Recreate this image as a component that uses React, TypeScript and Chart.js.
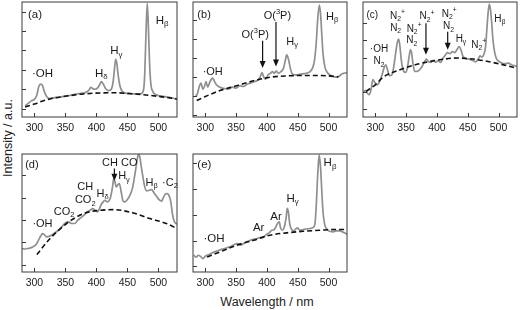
import React, { useEffect, useRef } from "react";
import { Chart, registerables } from "chart.js";
Chart.register(...registerables);

const FONT = "'Liberation Sans', Arial, Helvetica, sans-serif";
const X_TICKS = [300, 350, 400, 450, 500];

// ---------- Panel (a) ----------
const A_WL = [285, 290, 295, 300, 304, 307, 310, 313, 316, 320, 325, 335, 345, 355, 365, 375, 383, 388, 391, 395, 398, 402, 405, 408, 411, 415, 420, 424, 427, 429, 431, 433, 435, 438, 441, 445, 455, 465, 472, 476, 478, 480, 482, 484, 486, 488, 491, 496, 505, 515, 525, 530];
const A_INT = [0.14, 0.27, 0.4, 0.48, 0.7, 1.13, 1.27, 1.2, 0.88, 0.62, 0.52, 0.58, 0.62, 0.67, 0.74, 0.79, 0.84, 0.96, 1.1, 1.01, 1.0, 1.07, 1.22, 1.39, 1.27, 1.03, 0.93, 1.0, 1.39, 1.99, 2.54, 2.34, 1.74, 1.17, 0.93, 0.82, 0.77, 0.76, 0.77, 0.96, 1.82, 3.88, 5.43, 4.05, 2.16, 1.22, 0.88, 0.72, 0.65, 0.6, 0.53, 0.5];
const A_BASE_WL = [285, 300, 312, 325, 352, 379, 406, 427, 449, 476, 503, 530];
const A_BASE = [0.09, 0.24, 0.38, 0.5, 0.65, 0.76, 0.81, 0.82, 0.79, 0.72, 0.62, 0.5];
const A_LABELS = [
  { text: "(a)", x: 301, y: 4.83 },
  { text: "·OH", x: 313, y: 1.79 },
  { text: "H_δ", x: 408, y: 1.82 },
  { text: "H_γ", x: 432, y: 2.99 },
  { text: "H_β", x: 506, y: 4.54 },
];
const A_ARROWS: { x: number; y1: number; y2: number }[] = [];

// ---------- Panel (b) ----------
const B_WL = [284, 287, 290, 293, 296, 299, 301, 304, 307, 310, 312, 315, 318, 323, 330, 337, 344, 350, 356, 362, 367, 373, 379, 385, 389, 392, 395, 398, 402, 406, 409, 412, 415, 419, 423, 427, 430, 432, 435, 438, 441, 446, 452, 458, 464, 470, 474, 477, 480, 482, 485, 487, 489, 491, 494, 498, 503, 508, 513, 518, 522, 526, 530];
const B_INT = [0.96, 1.1, 1.46, 1.67, 1.35, 1.53, 1.75, 1.46, 1.7, 1.88, 1.93, 1.75, 1.58, 1.46, 1.39, 1.35, 1.46, 1.4, 1.53, 1.49, 1.6, 1.67, 1.74, 1.81, 1.98, 2.23, 1.98, 1.88, 2.11, 2.19, 2.28, 2.19, 2.3, 2.19, 2.28, 2.46, 2.89, 3.16, 2.93, 2.46, 2.16, 2.1, 2.12, 2.16, 2.19, 2.28, 2.46, 2.81, 3.77, 4.82, 5.79, 5.35, 4.3, 3.25, 2.54, 2.23, 2.09, 2.02, 1.98, 2.05, 2.16, 2.19, 2.23];
const B_BASE_WL = [286, 300, 324, 351, 378, 405, 432, 459, 486, 500, 516];
const B_BASE = [0.75, 0.96, 1.28, 1.53, 1.79, 1.98, 2.05, 2.07, 2.07, 2.05, 2.0];
const B_LABELS = [
  { text: "(b)", x: 298, y: 5.26 },
  { text: "·OH", x: 312, y: 2.28 },
  { text: "O(^3P)", x: 381, y: 4.21 },
  { text: "O(^3P)", x: 417, y: 5.21 },
  { text: "H_γ", x: 441, y: 3.86 },
  { text: "H_β", x: 506, y: 5.17 },
];
const B_ARROWS = [
  { x: 393, y1: 3.91, y2: 2.46 },
  { x: 414.7, y1: 4.89, y2: 2.54 },
];

// ---------- Panel (c) ----------
const C_WL = [281, 284, 287, 290, 293, 296, 299, 303, 307, 311, 314, 317, 320, 323, 327, 330, 333, 336, 338, 340, 342, 345, 349, 352, 355, 357, 359, 361, 364, 368, 372, 376, 380, 383, 386, 390, 394, 398, 402, 406, 410, 414, 417, 421, 425, 429, 433, 436, 439, 442, 446, 452, 458, 463, 467, 470, 473, 476, 479, 481, 483, 485, 487, 489, 491, 494, 497, 501, 506, 511, 516, 521, 526, 530];
const C_INT = [0.97, 1.09, 0.93, 0.83, 1.12, 1.71, 1.55, 1.41, 1.61, 2.0, 2.38, 2.58, 2.25, 1.94, 2.0, 2.48, 3.26, 3.93, 4.07, 3.64, 2.91, 2.29, 2.13, 2.38, 3.1, 3.45, 3.26, 2.67, 2.19, 2.19, 2.29, 2.48, 2.77, 2.91, 2.77, 2.71, 2.83, 2.73, 2.81, 2.71, 2.97, 3.16, 3.29, 3.22, 3.35, 3.29, 3.49, 3.64, 3.45, 3.1, 2.95, 2.91, 2.83, 2.75, 2.91, 3.1, 3.02, 3.16, 3.64, 4.61, 5.58, 6.12, 5.78, 5.0, 4.03, 3.26, 2.91, 2.77, 2.67, 2.64, 2.67, 2.58, 2.52, 2.48];
const C_BASE_WL = [285, 300, 313, 340, 372, 405, 432, 459, 491, 530];
const C_BASE = [1.03, 1.41, 1.86, 2.29, 2.64, 2.87, 2.97, 2.91, 2.71, 2.38];
const C_LABELS = [
  { text: "(c)", x: 295, y: 5.48 },
  { text: "N_2^+", x: 336, y: 5.42 },
  { text: "N_2", x: 333, y: 4.71 },
  { text: "N_2^+", x: 363, y: 4.65 },
  { text: "N_2", x: 359, y: 3.99 },
  { text: "N_2^+", x: 384, y: 5.38 },
  { text: "N_2^+", x: 420, y: 5.54 },
  { text: "N_2", x: 419, y: 4.8 },
  { text: "H_γ", x: 439, y: 4.07 },
  { text: "N_2^+", x: 468, y: 3.74 },
  { text: "H_β", x: 502, y: 5.25 },
  { text: "·OH", x: 306, y: 3.49 },
  { text: "N_2", x: 306, y: 2.77 },
];
const C_ARROWS = [
  { x: 382.2, y1: 5.0, y2: 3.16 },
  { x: 417.5, y1: 4.51, y2: 3.45 },
];

// ---------- Panel (d) ----------
const D_WL = [280, 285, 290, 295, 299, 303, 307, 310, 313, 316, 320, 325, 330, 335, 340, 345, 350, 355, 360, 365, 370, 375, 380, 385, 390, 394, 398, 402, 405, 408, 411, 414, 417, 420, 423, 426, 428, 430, 432, 434, 437, 440, 443, 446, 450, 454, 458, 461, 464, 466, 468, 470, 472, 475, 478, 481, 485, 489, 493, 497, 501, 505, 508, 511, 514, 517, 520, 523, 526, 530];
const D_INT = [0.72, 0.7, 0.72, 0.76, 0.82, 0.91, 1.12, 1.27, 1.39, 1.34, 1.24, 1.28, 1.36, 1.46, 1.57, 1.72, 1.87, 1.91, 1.84, 1.84, 1.99, 2.1, 2.21, 2.36, 2.43, 2.51, 2.43, 2.36, 2.51, 2.7, 2.81, 2.88, 2.81, 2.85, 3.03, 3.48, 3.85, 3.7, 3.48, 3.55, 3.63, 3.25, 2.85, 2.81, 2.91, 3.1, 3.4, 3.85, 4.37, 4.75, 4.93, 4.82, 4.45, 3.93, 3.48, 3.3, 3.33, 3.36, 3.21, 3.06, 2.91, 2.84, 3.0, 3.15, 3.18, 3.1, 2.81, 2.21, 1.91, 1.81];
const D_BASE_WL = [304, 325, 352, 379, 406, 427, 460, 486, 513, 530];
const D_BASE = [0.45, 1.16, 1.84, 2.28, 2.43, 2.46, 2.31, 2.06, 1.84, 1.61];
const D_LABELS = [
  { text: "(d)", x: 296, y: 4.45 },
  { text: "·OH", x: 313, y: 1.81 },
  { text: "CO_2", x: 348, y: 2.36 },
  { text: "CH", x: 382, y: 3.48 },
  { text: "CO_2", x: 382, y: 2.88 },
  { text: "H_δ", x: 410, y: 3.18 },
  { text: "CH", x: 422, y: 4.56 },
  { text: "H_γ", x: 444.5, y: 3.96 },
  { text: "CO", x: 453, y: 4.56 },
  { text: "H_β", x: 489, y: 3.66 },
  { text: "·C_2", x: 518.7, y: 3.66 },
];
const D_ARROWS = [{ x: 429, y1: 4.3, y2: 3.75 }];

// ---------- Panel (e) ----------
const E_WL = [281, 285, 289, 292, 296, 300, 303, 307, 311, 315, 320, 325, 330, 336, 342, 348, 352, 357, 362, 367, 373, 379, 384, 389, 394, 399, 404, 408, 412, 415, 418, 420, 422, 425, 428, 431, 433, 435, 437, 440, 444, 449, 454, 459, 465, 470, 475, 478, 480, 482, 484, 485, 487, 489, 491, 494, 498, 503, 508, 513, 519, 524, 530];
const E_INT = [0.43, 0.36, 0.43, 0.39, 0.3, 0.39, 0.43, 0.47, 0.52, 0.56, 0.6, 0.65, 0.68, 0.73, 0.78, 0.86, 0.88, 0.82, 0.88, 0.95, 1.01, 1.06, 1.08, 1.12, 1.14, 1.23, 1.31, 1.4, 1.43, 1.56, 1.69, 1.73, 1.51, 1.4, 1.51, 1.86, 2.25, 2.08, 1.66, 1.43, 1.38, 1.49, 1.4, 1.43, 1.45, 1.47, 1.51, 1.66, 2.31, 3.35, 4.13, 4.32, 3.87, 2.96, 2.12, 1.6, 1.43, 1.35, 1.34, 1.38, 1.38, 1.32, 1.25];
const E_BASE_WL = [303, 324, 351, 378, 405, 432, 459, 486, 513, 530];
const E_BASE = [0.36, 0.56, 0.82, 1.01, 1.21, 1.3, 1.36, 1.4, 1.43, 1.43];
const E_LABELS = [
  { text: "(e)", x: 298.4, y: 3.93 },
  { text: "·OH", x: 314, y: 1.05 },
  { text: "Ar", x: 386.6, y: 1.5 },
  { text: "Ar", x: 414.7, y: 1.92 },
  { text: "H_γ", x: 441.8, y: 2.63 },
  { text: "H_β", x: 502.4, y: 4.02 },
];
const E_ARROWS: { x: number; y1: number; y2: number }[] = [];

// ---------- layout ----------
type Panel = {
  key: string;
  left: number; top: number; width: number; height: number;
  yMin: number; yMax: number; yTicks: number[];
  wl: number[]; int: number[]; baseWl: number[]; base: number[];
  labels: { text: string; x: number; y: number }[];
  arrows: { x: number; y1: number; y2: number }[];
  fontSize: number;
};

const PANELS: Panel[] = [
  { key: "a", left: 22, top: 2, width: 155, height: 115.3, yMin: -0.43, yMax: 5.5, yTicks: [0, 1, 2, 3, 4, 5], wl: A_WL, int: A_INT, baseWl: A_BASE_WL, base: A_BASE, labels: A_LABELS, arrows: A_ARROWS, fontSize: 11.5 },
  { key: "b", left: 193, top: 2, width: 154, height: 115.3, yMin: -0.12, yMax: 5.95, yTicks: [0, 1, 2, 3, 4, 5], wl: B_WL, int: B_INT, baseWl: B_BASE_WL, base: B_BASE, labels: B_LABELS, arrows: B_ARROWS, fontSize: 11 },
  { key: "c", left: 363, top: 2, width: 154, height: 115.3, yMin: -0.47, yMax: 6.24, yTicks: [0, 1, 2, 3, 4, 5], wl: C_WL, int: C_INT, baseWl: C_BASE_WL, base: C_BASE, labels: C_LABELS, arrows: C_ARROWS, fontSize: 10 },
  { key: "d", left: 22, top: 154, width: 155, height: 117.7, yMin: -0.33, yMax: 4.95, yTicks: [0, 1, 2, 3, 4], wl: D_WL, int: D_INT, baseWl: D_BASE_WL, base: D_BASE, labels: D_LABELS, arrows: D_ARROWS, fontSize: 11 },
  { key: "e", left: 193, top: 154, width: 154, height: 117.7, yMin: -0.22, yMax: 4.36, yTicks: [0, 1, 2, 3, 4], wl: E_WL, int: E_INT, baseWl: E_BASE_WL, base: E_BASE, labels: E_LABELS, arrows: E_ARROWS, fontSize: 11.5 },
];

const PAD = 4;
const XLAB_H = 20;

function parseRich(s: string) {
  const segs: { t: string; mode: number }[] = [];
  let i = 0;
  while (i < s.length) {
    const c = s[i];
    if ((c === "_" || c === "^") && i + 1 < s.length) {
      segs.push({ t: s[i + 1], mode: c === "_" ? 1 : 2 });
      i += 2;
    } else {
      let j = i;
      while (j < s.length && s[j] !== "_" && s[j] !== "^") j++;
      segs.push({ t: s.slice(i, j), mode: 0 });
      i = j;
    }
  }
  return segs;
}

function drawRich(ctx: CanvasRenderingContext2D, s: string, cx: number, cy: number, size: number) {
  const segs = parseRich(s);
  const small = size * 0.68;
  let w = 0;
  const widths = segs.map((sg) => {
    ctx.font = `${sg.mode ? small : size}px ${FONT}`;
    const m = ctx.measureText(sg.t).width;
    w += m;
    return m;
  });
  let x = cx - w / 2;
  ctx.textBaseline = "middle";
  ctx.textAlign = "left";
  segs.forEach((sg, k) => {
    ctx.font = `${sg.mode ? small : size}px ${FONT}`;
    let y = cy;
    if (sg.mode === 1) y = cy + size * 0.32;
    if (sg.mode === 2) y = cy - size * 0.38;
    ctx.fillText(sg.t, x, y);
    x += widths[k];
  });
}

const framePlugin = {
  id: "frameAndNotes",
  afterDraw(chart: any) {
    const p: Panel = chart.options.plugins.frameAndNotes.panel;
    const ctx: CanvasRenderingContext2D = chart.ctx;
    const { left, right, top, bottom } = chart.chartArea;
    const xs = chart.scales.x;
    const ys = chart.scales.y;
    ctx.save();
    ctx.strokeStyle = "#3a3a3a";
    ctx.lineWidth = 1;
    ctx.strokeRect(left, top, right - left, bottom - top);
    ctx.beginPath();
    X_TICKS.forEach((v) => {
      const px = Math.round(xs.getPixelForValue(v)) + 0.5;
      ctx.moveTo(px, bottom);
      ctx.lineTo(px, bottom - 4);
    });
    p.yTicks.forEach((v) => {
      const py = Math.round(ys.getPixelForValue(v)) + 0.5;
      ctx.moveTo(left, py);
      ctx.lineTo(left + 4, py);
    });
    ctx.stroke();

    ctx.fillStyle = "#1a1a1a";
    p.labels.forEach((lb) => {
      drawRich(ctx, lb.text, xs.getPixelForValue(lb.x), ys.getPixelForValue(lb.y), p.fontSize);
    });

    ctx.strokeStyle = "#111";
    ctx.fillStyle = "#111";
    ctx.lineWidth = 1.2;
    p.arrows.forEach((a) => {
      const px = xs.getPixelForValue(a.x);
      const y1 = ys.getPixelForValue(a.y1);
      const y2 = ys.getPixelForValue(a.y2);
      ctx.beginPath();
      ctx.moveTo(px, y1);
      ctx.lineTo(px, y2 - 4);
      ctx.stroke();
      ctx.beginPath();
      ctx.moveTo(px, y2);
      ctx.lineTo(px - 3, y2 - 7);
      ctx.lineTo(px + 3, y2 - 7);
      ctx.closePath();
      ctx.fill();
    });
    ctx.restore();
  },
};

function PanelChart({ p }: { p: Panel }) {
  const ref = useRef<HTMLCanvasElement | null>(null);
  useEffect(() => {
    if (!ref.current) return;
    const chart = new Chart(ref.current, {
      type: "line",
      data: {
        datasets: [
          {
            data: p.baseWl.map((x, i) => ({ x, y: p.base[i] })),
            borderColor: "#111",
            borderWidth: 1.6,
            borderDash: [5, 3],
            pointRadius: 0,
            cubicInterpolationMode: "monotone",
            fill: false,
          },
          {
            data: p.wl.map((x, i) => ({ x, y: p.int[i] })),
            borderColor: "#8f8f8f",
            borderWidth: 1.7,
            pointRadius: 0,
            cubicInterpolationMode: "monotone",
            fill: false,
          },
        ],
      },
      options: {
        animation: false,
        responsive: false,
        devicePixelRatio: 1,
        layout: { padding: { left: PAD, right: PAD, top: PAD, bottom: 0 } },
        plugins: {
          legend: { display: false },
          tooltip: { enabled: false },
          frameAndNotes: { panel: p },
        } as any,
        scales: {
          x: {
            type: "linear",
            min: 280,
            max: 530,
            grid: { display: false, drawTicks: false },
            border: { display: false },
            ticks: {
              padding: 5,
              color: "#222",
              font: { family: FONT, size: 10.5 },
              callback: (v: any) => String(v),
              maxRotation: 0,
              autoSkip: false,
            },
            afterBuildTicks: (s: any) => {
              s.ticks = X_TICKS.map((v) => ({ value: v }));
            },
            afterFit: (s: any) => {
              s.height = XLAB_H;
            },
          },
          y: {
            type: "linear",
            display: false,
            min: p.yMin,
            max: p.yMax,
          },
        },
      },
      plugins: [framePlugin],
    } as any);
    return () => chart.destroy();
  }, [p]);
  const w = p.width + PAD * 2;
  const h = p.height + PAD + XLAB_H;
  return (
    <canvas
      ref={ref}
      width={Math.round(w)}
      height={Math.round(h)}
      style={{ position: "absolute", left: p.left - PAD, top: p.top - PAD, width: Math.round(w), height: Math.round(h) }}
    />
  );
}

export default function App() {
  return (
    <div style={{ position: "absolute", left: 0, top: 0, width: 521, height: 310, background: "#fff", overflow: "hidden" }}>
      {PANELS.map((p) => (
        <PanelChart key={p.key} p={p} />
      ))}
      <div
        style={{
          position: "absolute",
          left: 8,
          top: 138,
          transform: "translate(-50%, -50%) rotate(-90deg)",
          whiteSpace: "nowrap",
          fontFamily: FONT,
          fontSize: 12.5,
          lineHeight: 1,
          color: "#222",
        }}
      >
        Intensity / a.u.
      </div>
      <div
        style={{
          position: "absolute",
          left: 267,
          top: 302,
          transform: "translate(-50%, -50%)",
          whiteSpace: "nowrap",
          fontFamily: FONT,
          fontSize: 12.5,
          lineHeight: 1,
          color: "#222",
        }}
      >
        Wavelength / nm
      </div>
    </div>
  );
}
